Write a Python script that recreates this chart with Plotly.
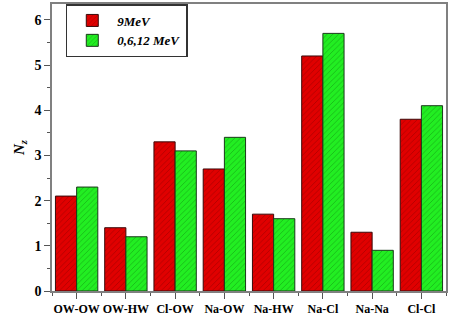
import plotly.graph_objects as go

categories = ["OW-OW", "OW-HW", "Cl-OW", "Na-OW", "Na-HW", "Na-Cl", "Na-Na", "Cl-Cl"]
series_9mev = [2.1, 1.4, 3.3, 2.7, 1.7, 5.2, 1.3, 3.8]
series_0612mev = [2.3, 1.2, 3.1, 3.4, 1.6, 5.7, 0.9, 4.1]
x_pos = list(range(len(categories)))

font_serif = "Liberation Serif"

fig = go.Figure()
fig.add_trace(go.Bar(
    x=x_pos, y=series_9mev, name="<b><i>9MeV</i></b>",
    marker=dict(color="#e00000", line=dict(color="#3a0a0a", width=1),
                pattern=dict(shape="/", fgcolor="rgba(60,0,0,0.85)", size=4, solidity=0.15)),
))
fig.add_trace(go.Bar(
    x=x_pos, y=series_0612mev, name="<b><i>0,6,12 MeV</i></b>",
    marker=dict(color="#22ee22", line=dict(color="#1a3a1a", width=1),
                pattern=dict(shape="/", fgcolor="rgba(0,50,0,0.85)", size=4, solidity=0.15)),
))

fig.update_layout(
    width=450, height=318,
    margin=dict(l=52, r=4, t=2, b=24),
    paper_bgcolor="white", plot_bgcolor="white",
    barmode="group", bargap=0.14, bargroupgap=0,
    font=dict(family=font_serif, color="black", size=13),
    showlegend=True,
    legend=dict(x=0.035, y=1.0, xanchor="left", yanchor="top",
                bordercolor="#333", borderwidth=1.5, bgcolor="white",
                font=dict(size=13, family=font_serif), tracegroupgap=0,
                itemwidth=40),
)
fig.update_xaxes(
    range=[-0.5, 7.5], tickvals=x_pos,
    ticktext=["<b>%s</b>" % c for c in categories],
    showline=True, linecolor="#808080", linewidth=1.5, mirror=True,
    ticks="outside", ticklen=6, tickcolor="#555", tickwidth=1,
    minor=dict(tick0=0.5, dtick=1, ticks="outside", ticklen=3, tickcolor="#555"),
    showgrid=False, tickfont=dict(size=12, family=font_serif), zeroline=False,
)
fig.update_yaxes(
    range=[0, 6.35], tickvals=[0, 1, 2, 3, 4, 5, 6],
    ticktext=["<b>%d</b>" % v for v in range(7)],
    showline=True, linecolor="#808080", linewidth=1.5, mirror=True,
    ticks="outside", ticklen=6, tickcolor="#555", tickwidth=1,
    minor=dict(dtick=0.5, ticks="outside", ticklen=3, tickcolor="#555"),
    showgrid=False, zeroline=False, tickfont=dict(size=14, family=font_serif),
    title=dict(text="<b><i>N</i></b><sub><b><i>z</i></b></sub>", standoff=6,
               font=dict(size=15, family=font_serif)),
)

fig.write_html("out.html", config={"displayModeBar": False},
               post_script="document.body.style.margin='0';")
